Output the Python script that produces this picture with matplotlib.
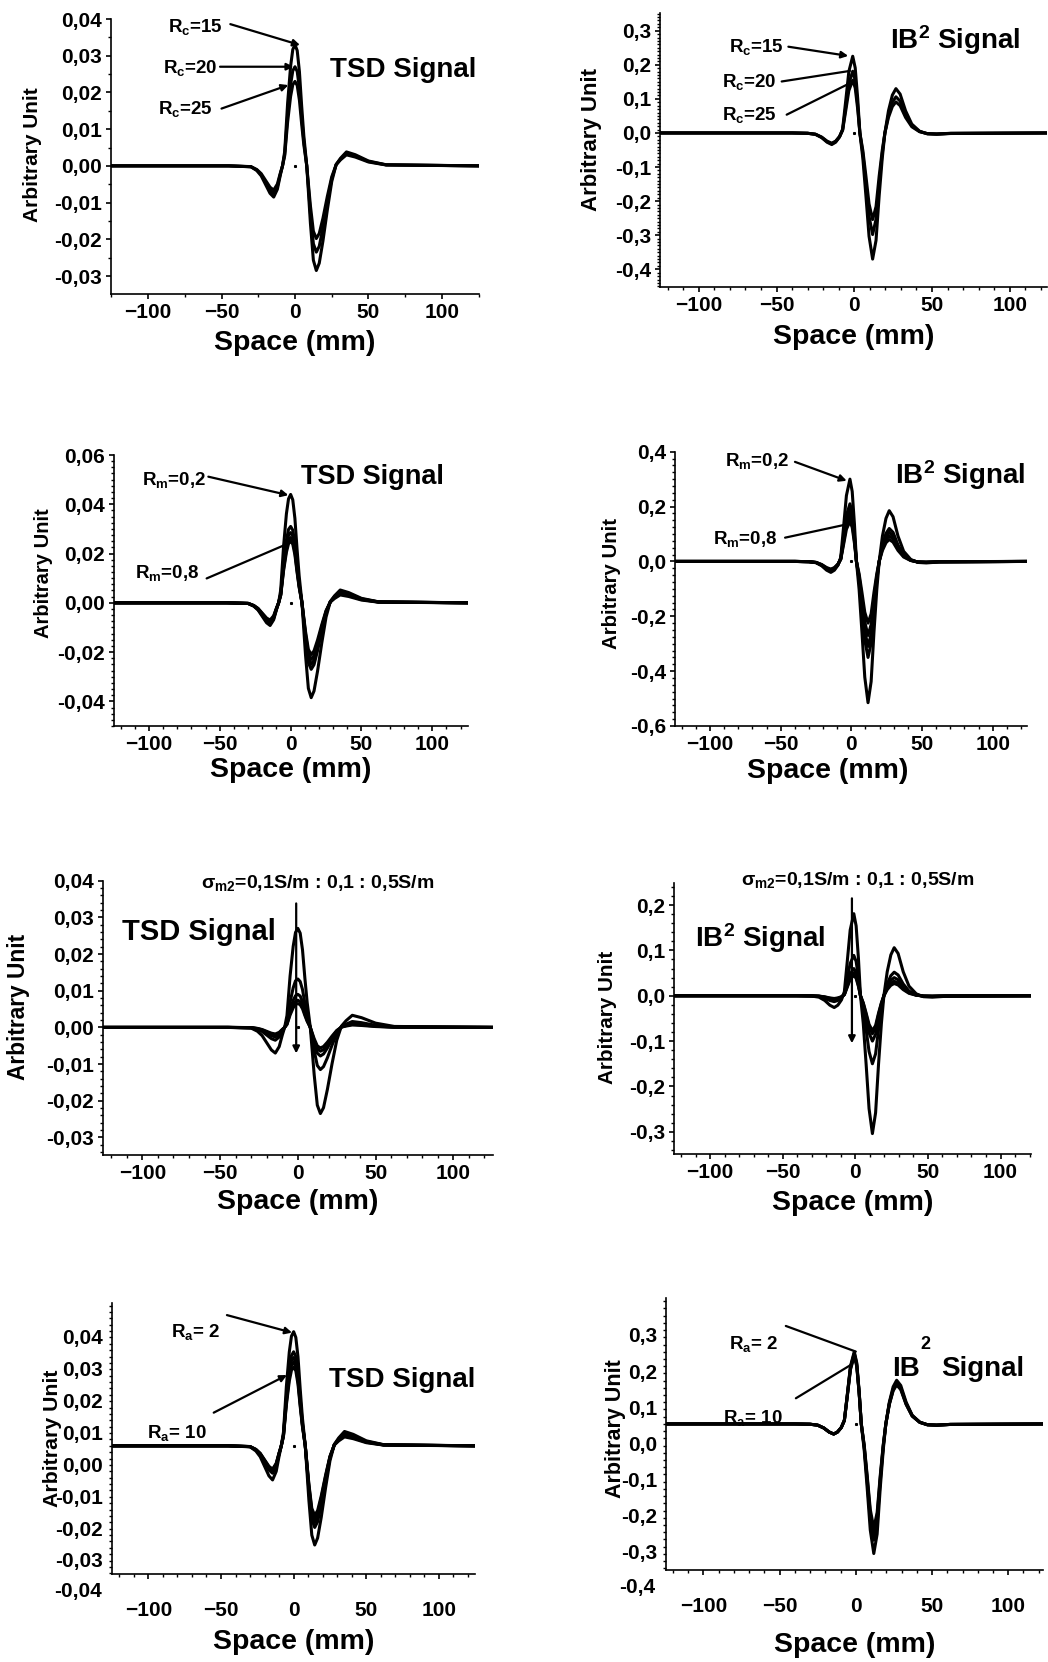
#!/usr/bin/env python3
"""
Eddy-current probe signals (TSD and IB^2) for several parameters.
Run: python plot.py  -> out.png
"""

import matplotlib
matplotlib.use('Agg')
import matplotlib.pyplot as plt
from matplotlib.ticker import FixedLocator, MultipleLocator, FuncFormatter

plt.rcParams['font.family'] = 'Liberation Sans'
plt.rcParams['font.weight'] = 'bold'
plt.rcParams['axes.labelweight'] = 'bold'
plt.rcParams['mathtext.fontset'] = 'custom'
plt.rcParams['mathtext.rm'] = 'Liberation Sans:bold'
plt.rcParams['mathtext.it'] = 'Liberation Sans:bold'
plt.rcParams['mathtext.bf'] = 'Liberation Sans:bold'

# ---------------------------------------------------------------------------
# data (signal values in units of 1e-3 arbitrary unit)
# ---------------------------------------------------------------------------
X_TSD = [-125, -45, -30, -26, -23, -20, -17, -14.5, -12, -10, -8.5, -7, -5, -3,
         -1.5, 0, 1.5, 3, 4.5, 6, 8, 10.5, 12.5, 14.5, 16.5, 19, 22, 25, 28,
         31, 35, 41, 50, 62, 125]

X_IB = [-125, -40, -30, -25, -21, -17.5, -14.5, -12, -9.5, -7.5, -5.5, -3.5,
        -1, 0.6, 2.2, 3.6, 5.5, 7.5, 9.5, 11.8, 14, 16, 18, 19.7, 22, 24.5,
        26.8, 29.5, 33, 37, 42, 47, 53, 62, 125]

# row 1 : Rc = 15, 20, 25
TSD_RC = [
    [0, 0, -0.26, -1.28, -2.72, -5.1, -7.48, -8.5, -6.38, -2.55, 0, 3.96, 17.2, 27.1,
     31.7, 33, 31.4, 25.7, 16.5, 8.25, 0, -15.7, -25.7, -28.5, -26.5, -20.5, -12.0,
     -4.28, 0.38, 2.09, 3.8, 3.04, 1.33, 0.30, 0],
    [0, 0, -0.23, -1.13, -2.4, -4.5, -6.6, -7.5, -5.63, -2.25, 0, 3.24, 14.0, 22.1,
     25.9, 27, 25.7, 21.1, 13.5, 6.75, 0, -12.9, -21.2, -23.5, -21.9, -16.9, -9.87,
     -3.53, 0.34, 1.87, 3.4, 2.72, 1.19, 0.27, 0],
    [0, 0, -0.2, -0.99, -2.11, -3.96, -5.81, -6.6, -4.95, -1.98, 0, 2.76, 12.0, 18.9,
     22.1, 23, 21.9, 17.9, 11.5, 5.75, 0, -10.9, -17.8, -19.8, -18.4, -14.3, -8.32,
     -2.97, 0.3, 1.65, 3.0, 2.4, 1.05, 0.24, 0],
]
IB_RC = [
    [0, 0, -1.0, -4.1, -13.6, -27.2, -34, -27.2, -11.9, 11.3, 94.5, 180, 225, 191, 101,
     0, -74, -185, -303, -370, -315, -185, -74, 0, 65, 111, 130, 114, 65, 26, 5.2,
     -2.6, -3.9, -1.6, 0],
    [0, 0, -0.96, -3.84, -12.8, -25.6, -32, -25.6, -11.2, 9.05, 76, 145, 181, 154, 81.5,
     0, -59.6, -149, -244, -298, -253, -149, -59.6, 0, 53, 90, 106, 93.3, 53, 21.2,
     4.24, -2.12, -3.18, -1.27, 0],
    [0, 0, -0.9, -3.6, -12, -24, -30, -24, -10.5, 7.75, 65.1, 124, 155, 132, 69.8,
     0, -50.8, -127, -208, -254, -216, -127, -50.8, 0, 45.5, 77.4, 91, 80.1, 45.5,
     18.2, 3.64, -1.82, -2.73, -1.09, 0],
]

# row 2 : Rm = 0.2 ... 0.8
TSD_RM = [
    [0, 0, -0.28, -1.38, -2.94, -5.52, -8.1, -9.2, -6.9, -2.76, 0, 5.28, 22.9, 36.1,
     42.2, 44, 41.8, 34.3, 22, 11, 0, -21.2, -34.7, -38.5, -35.8, -27.7, -16.2,
     -5.78, 0.52, 2.86, 5.2, 4.16, 1.82, 0.42, 0],
    [0, 0, -0.26, -1.28, -2.72, -5.1, -7.48, -8.5, -6.38, -2.55, 0, 3.72, 16.1, 25.4,
     29.8, 31, 29.5, 24.2, 15.5, 7.75, 0, -14.9, -24.3, -27, -25.1, -19.4, -11.3,
     -4.05, 0.46, 2.53, 4.6, 3.68, 1.61, 0.37, 0],
    [0, 0, -0.24, -1.2, -2.56, -4.8, -7.04, -8, -6, -2.4, 0, 3.42, 14.8, 23.4,
     27.4, 28.5, 27.1, 22.2, 14.3, 7.13, 0, -13.8, -22.5, -25, -23.3, -18, -10.5,
     -3.75, 0.42, 2.31, 4.2, 3.36, 1.47, 0.34, 0],
    [0, 0, -0.23, -1.13, -2.4, -4.5, -6.6, -7.5, -5.63, -2.25, 0, 3.18, 13.8, 21.7,
     25.4, 26.5, 25.2, 20.7, 13.3, 6.63, 0, -12.7, -20.7, -23, -21.4, -16.6, -9.66,
     -3.45, 0.38, 2.09, 3.8, 3.04, 1.33, 0.3, 0],
    [0, 0, -0.21, -1.05, -2.24, -4.2, -6.16, -7, -5.25, -2.1, 0, 3, 13, 20.5,
     24, 25, 23.8, 19.5, 12.5, 6.25, 0, -11.6, -18.9, -21, -19.5, -15.1, -8.82,
     -3.15, 0.32, 1.76, 3.2, 2.56, 1.12, 0.26, 0],
]
IB_RM = [
    [0, 0, -1.2, -4.8, -16, -32, -40, -32, -14, 15, 126, 240, 300, 255, 135, 0, -103,
     -258, -422, -515, -438, -258, -103, 0, 92.5, 157, 185, 163, 92.5, 37, 7.4, -3.7,
     -5.55, -2.22, 0],
    [0, 0, -1.05, -4.2, -14, -28, -35, -28, -12.3, 10.5, 88.2, 168, 210, 179, 94.5, 0,
     -70, -175, -287, -350, -298, -175, -70, 0, 60, 102, 120, 106, 60, 24, 4.8, -2.4,
     -3.6, -1.44, 0],
    [0, 0, -0.99, -3.96, -13.2, -26.4, -33, -26.4, -11.6, 9.4, 79, 150, 188, 160, 84.6,
     0, -62, -155, -254, -310, -264, -155, -62, 0, 53, 90.1, 106, 93.3, 53, 21.2,
     4.24, -2.12, -3.18, -1.27, 0],
    [0, 0, -0.9, -3.6, -12, -24, -30, -24, -10.5, 8.3, 69.7, 133, 166, 141, 74.7, 0,
     -54, -135, -221, -270, -230, -135, -54, 0, 46.5, 79, 93, 81.8, 46.5, 18.6, 3.72,
     -1.86, -2.79, -1.12, 0],
    [0, 0, -0.84, -3.36, -11.2, -22.4, -28, -22.4, -9.8, 7.3, 61.3, 117, 146, 124, 65.7,
     0, -45, -113, -185, -225, -191, -113, -45, 0, 40, 68, 80, 70.4, 40, 16, 3.2,
     -1.6, -2.4, -0.96, 0],
]

# row 3 : sigma_m2 = 0.1 ... 0.5 S/m
TSD_SIG = [
    [0, 0, -0.21, -1.05, -2.24, -4.2, -6.16, -7, -5.25, -2.1, 0, 3.24, 14, 22.1, 25.9,
     27, 25.7, 21.1, 13.5, 6.75, 0, -12.9, -21.2, -23.5, -21.9, -16.9, -9.87, -3.53,
     0.33, 1.82, 3.3, 2.64, 1.16, 0.26, 0],
    [0, 0, -0.11, -0.53, -1.12, -2.1, -3.08, -3.5, -2.63, -1.05, 0, 1.58, 6.86, 10.8,
     12.7, 13.2, 12.5, 10.3, 6.6, 3.3, 0, -6.33, -10.4, -11.5, -10.7, -8.28, -4.83,
     -1.73, 0.16, 0.88, 1.6, 1.28, 0.56, 0.13, 0],
    [0, 0, -0.08, -0.39, -0.83, -1.56, -2.29, -2.6, -1.95, -0.78, 0, 1.08, 4.68, 7.38,
     8.64, 9, 8.55, 7.02, 4.5, 2.25, 0, -4.29, -7.02, -7.8, -7.25, -5.62, -3.28,
     -1.17, 0.11, 0.61, 1.1, 0.88, 0.39, 0.09, 0],
    [0, 0, -0.06, -0.32, -0.67, -1.26, -1.85, -2.1, -1.58, -0.63, 0, 0.89, 3.85, 6.07,
     7.1, 7.4, 7.03, 5.77, 3.7, 1.85, 0, -3.58, -5.85, -6.5, -6.05, -4.68, -2.73,
     -0.98, 0.09, 0.47, 0.85, 0.68, 0.3, 0.07, 0],
    [0, 0, -0.05, -0.27, -0.58, -1.08, -1.58, -1.8, -1.35, -0.54, 0, 0.78, 3.38, 5.33,
     6.24, 6.5, 6.18, 5.07, 3.25, 1.63, 0, -3.08, -5.04, -5.6, -5.21, -4.03, -2.35,
     -0.84, 0.07, 0.36, 0.65, 0.52, 0.23, 0.05, 0],
]
IB_SIG = [
    [0, 0, -0.78, -3.12, -10.4, -20.8, -26, -20.8, -9.1, 9.05, 76, 145, 181, 154, 81.5,
     0, -60.8, -152, -249, -304, -258, -152, -60.8, 0, 53, 90.1, 106, 93.3, 53, 21.2,
     4.24, -2.12, -3.18, -1.27, 0],
    [0, 0, -0.39, -1.56, -5.2, -10.4, -13, -10.4, -4.55, 4.45, 37.4, 71.2, 89, 75.7,
     40.1, 0, -30, -75, -123, -150, -128, -75, -30, 0, 26, 44.2, 52, 45.8, 26, 10.4,
     2.08, -1.04, -1.56, -0.62, 0],
    [0, 0, -0.27, -1.08, -3.6, -7.2, -9, -7.2, -3.15, 3, 25.2, 48, 60, 51, 27, 0, -20,
     -50, -82, -100, -85, -50, -20, 0, 20, 34, 40, 35.2, 20, 8, 1.6, -0.8, -1.2,
     -0.48, 0],
    [0, 0, -0.21, -0.84, -2.8, -5.6, -7, -5.6, -2.45, 2.5, 21, 40, 50, 42.5, 22.5, 0,
     -16.8, -42, -68.9, -84, -71.4, -42, -16.8, 0, 16, 27.2, 32, 28.2, 16, 6.4, 1.28,
     -0.64, -0.96, -0.38, 0],
    [0, 0, -0.18, -0.72, -2.4, -4.8, -6, -4.8, -2.1, 2.25, 18.9, 36, 45, 38.3, 20.3, 0,
     -15.4, -38.5, -63.1, -77, -65.5, -38.5, -15.4, 0, 13.5, 23, 27, 23.8, 13.5, 5.4,
     1.08, -0.54, -0.81, -0.32, 0],
]

# row 4 : Ra = 2 ... 10 (curves sit on an offset baseline in the original)
TSD_RA = [
    [5.8, 5.8, 5.48, 4.19, 2.38, -0.62, -3.62, -4.9, -2.23, 2.59, 5.8, 10.1, 24.4, 35.2,
     40.2, 41.6, 39.8, 33.7, 23.7, 14.75, 5.8, -11.3, -22.2, -25.3, -23.1, -16.6, -7.3,
     1.13, 6.25, 8.28, 10.3, 9.4, 7.38, 6.16, 5.8],
    [5.8, 5.8, 5.54, 4.51, 3.05, 0.64, -1.77, -2.8, -0.65, 3.22, 5.8, 9.34, 21.1, 30.0,
     34.1, 35.3, 33.8, 28.8, 20.6, 13.2, 5.8, -8.3, -17.2, -19.8, -18.0, -12.6, -5.0,
     1.96, 6.19, 7.95, 9.7, 8.92, 7.17, 6.11, 5.8],
    [5.8, 5.8, 5.56, 4.6, 3.24, 1.0, -1.24, -2.2, -0.2, 3.4, 5.8, 9.12, 20.2, 28.5,
     32.4, 33.5, 32.1, 27.4, 19.7, 12.7, 5.8, -7.4, -15.8, -18.2, -16.5, -11.5, -4.3,
     2.2, 6.15, 7.73, 9.3, 8.6, 7.03, 6.08, 5.8],
    [5.8, 5.8, 5.57, 4.66, 3.37, 1.24, -0.89, -1.8, 0.1, 3.52, 5.8, 8.94, 19.4, 27.3,
     31.0, 32.0, 30.7, 26.2, 18.9, 12.35, 5.8, -6.7, -14.7, -17.0, -15.4, -10.6, -3.78,
     2.38, 6.12, 7.56, 9.0, 8.36, 6.92, 6.06, 5.8],
    [5.8, 5.8, 5.58, 4.7, 3.46, 1.42, -0.62, -1.5, 0.32, 3.61, 5.8, 8.76, 18.6, 26.1,
     29.5, 30.5, 29.3, 25.1, 18.2, 12.0, 5.8, -6.2, -13.8, -16.0, -14.5, -9.9, -3.36,
     2.53, 6.08, 7.34, 8.6, 8.04, 6.78, 6.02, 5.8],
]
IB_RA = [
    [53.6, 53.6, 52.8, 50.2, 42.4, 31.2, 25.6, 31.2, 43.8, 63.6, 137.6, 213.6, 253.6,
     223.6, 143.6, 53.6, -18.2, -125.9, -240.4, -305.4, -251.4, -125.9, -18.2, 53.6,
     114.1, 156.5, 174.6, 160.1, 114.1, 77.8, 58.4, 51.2, 50.0, 52.2, 53.6],
    [53.6, 53.6, 52.8, 50.2, 42.4, 31.2, 25.6, 31.2, 43.8, 63.4, 135.9, 210.4, 249.6,
     220.2, 141.8, 53.6, -10.8, -107.4, -210.4, -268.4, -220.1, -107.4, -10.8, 53.6,
     110.6, 150.5, 167.6, 153.9, 110.6, 76.4, 58.2, 51.3, 50.2, 52.2, 53.6],
    [53.6, 53.6, 52.8, 50.2, 42.4, 31.2, 25.6, 31.2, 43.8, 63.2, 134.2, 207.2, 245.6,
     216.8, 140.0, 53.6, -7.0, -97.9, -194.9, -249.4, -204.0, -97.9, -7.0, 53.6,
     109.1, 148.0, 164.6, 151.3, 109.1, 75.8, 58.0, 51.4, 50.3, 52.3, 53.6],
    [53.6, 53.6, 52.8, 50.2, 42.4, 31.2, 25.6, 31.2, 43.8, 63.0, 132.6, 204.0, 241.6,
     213.4, 138.2, 53.6, -4.2, -90.9, -183.4, -235.4, -192.1, -90.9, -4.2, 53.6,
     107.6, 145.4, 161.6, 148.6, 107.6, 75.2, 57.9, 51.4, 50.4, 52.3, 53.6],
]

X_TICKS = [-100, -50, 0, 50, 100]
YT_TSD_A = [-30, -20, -10, 0, 10, 20, 30, 40]
YT_IB_RC = [-400, -300, -200, -100, 0, 100, 200, 300]
YT_TSD_RM = [-40, -20, 0, 20, 40, 60]
YT_IB_RM = [-600, -400, -200, 0, 200, 400]
YT_IB_SIG = [-300, -200, -100, 0, 100, 200]
YT_IB_RA = [-300, -200, -100, 0, 100, 200, 300]

SIG_TXT = r'σ$_{m2}$=0,1S/m : 0,1 : 0,5S/m'
IB_TXT = r'IB$^2$ Signal'

# ---------------------------------------------------------------------------
# panel layout (pixel boxes left, top, right, bottom) and decorations
# ---------------------------------------------------------------------------
W, H = 1048, 1662
TICK_SIZE = 15
PANELS = [
    dict(x=X_TSD, curves=TSD_RC, box=(111, 19, 479, 294), xlim=(-125.2, 125.2),
         ylim=(-34.9, 40), yticks=YT_TSD_A, nd=2, yminor=5, xminor=25,
         ylab=(-0.212, 0.505, 15), xlab=(0.5, -0.178),
         texts=[(-68, 36.4, r'R$_c$=15', 13.5), (-71.4, 25.4, r'R$_c$=20', 13.5),
                (-74.8, 14.1, r'R$_c$=25', 13.5), (73.7, 24.1, 'TSD Signal', 20)],
         arrows=[(-44, 38.6, 3.4, 32.9, True), (-51, 27, -1, 27, True),
                 (-50, 15.6, -4.5, 22, True)]),
    dict(x=X_IB, curves=IB_RC, box=(660, 13.3, 1047, 286.7), xlim=(-125, 124),
         ylim=(-451, 351), yticks=YT_IB_RC, nd=1, yminor=10, xminor=10,
         ylab=(-0.176, 0.537, 16), xlab=(0.5, -0.183),
         texts=[(-63.3, 236.6, r'R$_c$=15', 13.5), (-67.4, 134, r'R$_c$=20', 13.5),
                (-67.4, 37, r'R$_c$=25', 13.5), (64.7, 246, IB_TXT, 20)],
         arrows=[(-42.4, 253, -3.9, 226, True), (-46.7, 151, -2.8, 182, False),
                 (-43.5, 53.6, -2.8, 146, False)]),
    dict(x=X_TSD, curves=TSD_RM, box=(114, 455, 468, 726), xlim=(-124.7, 125.2),
         ylim=(-50, 60), yticks=YT_TSD_RM, nd=2, yminor=2.5, xminor=10,
         ylab=(-0.20, 0.565, 14.5), xlab=(0.5, -0.162),
         texts=[(-82.4, 47.8, r'R$_m$=0,2', 13.5), (-87, 9.9, r'R$_m$=0,8', 13.5),
                (57.6, 48.2, 'TSD Signal', 19.5)],
         arrows=[(-58.1, 51.2, -1.6, 43.7, True), (-59.3, 9.9, -1.6, 24.1, False)]),
    dict(x=X_IB, curves=IB_RM, box=(675, 451.7, 1027, 726), xlim=(-124.8, 124.3),
         ylim=(-600, 400), yticks=YT_IB_RM, nd=1, yminor=25, xminor=10,
         ylab=(-0.179, 0.518, 14.7), xlab=(0.435, -0.164),
         texts=[(-67, 348.8, r'R$_m$=0,2', 13.5), (-74.8, 62.2, r'R$_m$=0,8', 13.5),
                (76.9, 281.7, IB_TXT, 20)],
         arrows=[(-39.9, 363, -3.3, 294, True), (-46.9, 86.6, -3.3, 135, False)]),
    dict(x=X_TSD, curves=TSD_SIG, box=(102.7, 880.7, 492.7, 1155), xlim=(-125.5, 125.3),
         ylim=(-34.8, 40), yticks=YT_TSD_A, nd=2, yminor=2, xminor=10,
         ylab=(-0.217, 0.54, 16.4), xlab=(0.5, -0.171),
         texts=[(12.9, 37.9, SIG_TXT, 14), (-63.9, 23.7, 'TSD Signal', 21)],
         arrows=[(-1.07, 33.8, -1.07, -7.1, True)]),
    dict(x=X_IB, curves=IB_SIG, box=(674.3, 883.3, 1031, 1154), xlim=(-124.6, 121),
         ylim=(-349, 248), yticks=YT_IB_SIG, nd=1, yminor=20, xminor=10,
         ylab=(-0.186, 0.506, 14.9), xlab=(0.5, -0.181),
         texts=[(1.6, 244.3, SIG_TXT, 14), (-65.6, 107.7, IB_TXT, 20)],
         arrows=[(-2.3, 214.8, -2.3, -104.8, True)]),
    dict(x=X_TSD, curves=TSD_RA, box=(111.7, 1303.3, 475, 1574), xlim=(-125.2, 124.8),
         ylim=(-34.4, 50.5), yticks=YT_TSD_A, nd=2, yminor=2, xminor=10,
         ylab=(-0.162, 0.502, 15.3), xlab=(0.5, -0.251), shifted=True, extra=-40,
         texts=[(-67.7, 40.0, r'R$_a$= 2', 13.5), (-80.3, 8.1, r'R$_a$= 10', 13.5),
                (74.5, 24.1, 'TSD Signal', 20)],
         arrows=[(-45.9, 46.8, -1.1, 41.3, True), (-55, 16.2, -4.6, 28, True)]),
    dict(x=X_IB, curves=IB_RA, box=(665.7, 1298.3, 1043.3, 1570), xlim=(-124.7, 123),
         ylim=(-351, 401.6), yticks=YT_IB_RA, nd=1, yminor=20, xminor=10,
         ylab=(-0.132, 0.519, 15.5), xlab=(0.5, -0.276), shifted=True, extra=-400,
         texts=[(-67.3, 260.4, r'R$_a$= 2', 13.5), (-67.8, 57.2, r'R$_a$= 10', 13.5),
                (33.2, 186.5, 'IB', 20), (45.9, 260.4, '2', 13), (83.5, 186.5, 'Signal', 20)],
         arrows=[(-45.9, 325, 0, 254, False), (-39.3, 124.7, -3.3, 217, False)]),
]


def fmt(nd):
    def f(v, pos=None):
        s = f"{v / 1000:.{nd}f}".replace('.', ',')
        return s.replace('-0,00', '0,00') if nd == 2 else s.replace('-0,0', '0,0')
    return f


def draw_panel(fig, p):
    l, t, r, b = p['box']
    ax = fig.add_axes([l / W, 1 - b / H, (r - l) / W, (b - t) / H])
    for c in p['curves']:
        ax.plot(p['x'], c, color='black', lw=2.2, solid_joinstyle='round', zorder=2)
    ax.plot([0], [p['curves'][0][0]], marker='s', ms=1.2, color='black', zorder=2)

    ax.spines[['top', 'right']].set_visible(False)
    ax.spines[['left', 'bottom']].set_linewidth(1.2)
    ax.set_xlim(*p['xlim'])
    ax.set_ylim(*p['ylim'])
    ax.xaxis.set_major_locator(FixedLocator(X_TICKS))
    ax.xaxis.set_minor_locator(MultipleLocator(p['xminor']))
    ax.yaxis.set_major_locator(FixedLocator(p['yticks']))
    ax.yaxis.set_major_formatter(FuncFormatter(fmt(p['nd'])))
    shifted = p.get('shifted', False)
    base = p['curves'][0][0]
    ax.yaxis.set_minor_locator(MultipleLocator(p['yminor'], offset=base if shifted else 0))
    ax.tick_params(which='major', direction='out', length=3.5, width=1.2,
                   labelsize=TICK_SIZE, pad=3)
    ax.tick_params(which='minor', direction='out', length=2.5, width=1.0)
    if shifted:
        ax.tick_params(axis='x', which='major', pad=16)
        ax.tick_params(axis='y', which='major', length=0, pad=6)
        ax.text(-0.028, p['extra'], fmt(p['nd'])(p['extra']), ha='right', va='center',
                fontsize=TICK_SIZE, transform=ax.get_yaxis_transform(), clip_on=False)

    ax.set_xlabel('Space (mm)', fontsize=20.5)
    ax.xaxis.set_label_coords(*p['xlab'])
    ax.xaxis.label.set_va('center')
    lx, ly, ls = p['ylab']
    ax.set_ylabel('Arbitrary Unit', fontsize=ls)
    ax.yaxis.set_label_coords(lx, ly)
    ax.yaxis.label.set_va('center')

    for x, y, s, size in p['texts']:
        ax.text(x, y, s, ha='center', va='baseline', fontsize=size, clip_on=False, zorder=1)
    for x0, y0, x1, y1, head in p['arrows']:
        ax.annotate('', xy=(x1, y1), xytext=(x0, y0), zorder=4,
                    arrowprops=dict(arrowstyle='-|>' if head else '-', color='black',
                                    lw=1.6, mutation_scale=10, shrinkA=0, shrinkB=0))
    return ax


if __name__ == '__main__':
    fig = plt.figure(figsize=(W / 100, H / 100), dpi=100)
    for p in PANELS:
        draw_panel(fig, p)
    fig.savefig('out.png', dpi=100)
    plt.close(fig)
